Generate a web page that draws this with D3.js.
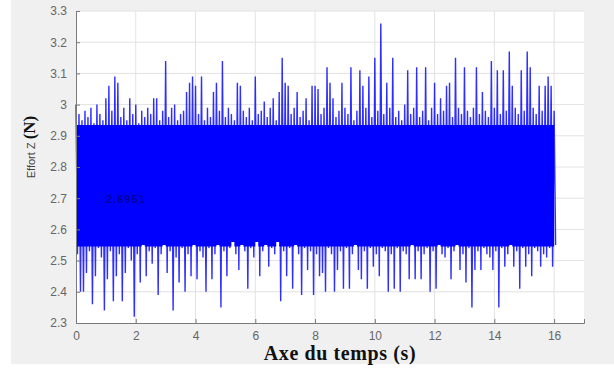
<!DOCTYPE html>
<html><head><meta charset="utf-8">
<script src="https://cdn.jsdelivr.net/npm/d3@7/dist/d3.min.js"></script>
<style>
html,body{margin:0;padding:0;background:#fff;}
svg{display:block;}
</style></head>
<body>
<svg id="c" width="614" height="370"></svg>
<script>
// ---- data ----
const timeStep = 0.1; // s, one envelope bin
const xTicks = [0, 2, 4, 6, 8, 10, 12, 14, 16];
const yTicks = [2.3, 2.4, 2.5, 2.6, 2.7, 2.8, 2.9, 3.0, 3.1, 3.2, 3.3];
// dense part of the signal (N): where the trace is a solid blue band
const denseBand = [2.545, 2.935];
// upper extreme of the signal in each 0.1 s bin (N)
const peakHigh = [
3.00,2.97,2.95,2.98,2.96,2.99,2.94,3.00,2.97,2.95,
3.02,3.06,2.98,3.09,3.07,2.96,2.99,2.95,3.02,2.97,
3.00,2.94,2.98,2.96,2.99,2.97,3.02,3.02,2.95,2.98,
3.14,2.96,2.99,3.00,2.95,2.97,2.98,3.04,3.07,3.09,
3.06,2.97,3.09,2.95,2.99,2.96,3.04,3.07,2.98,3.14,
2.96,2.99,2.97,2.95,3.07,3.06,2.98,2.96,2.99,2.95,
3.09,2.97,2.98,3.01,2.96,2.99,3.02,2.95,3.04,3.15,
3.07,3.06,2.97,2.99,3.04,2.96,2.98,3.02,2.95,3.06,
3.06,3.05,2.97,2.99,3.12,3.07,3.02,2.96,2.98,3.07,
2.99,2.97,3.12,2.95,2.98,3.11,3.06,2.99,3.09,2.96,
3.15,2.98,3.26,2.97,3.07,2.99,3.15,2.96,2.98,2.95,
3.00,3.11,2.97,2.99,3.12,2.96,2.98,3.12,2.95,2.99,
3.07,2.97,3.02,2.98,3.06,3.07,2.96,3.15,2.99,2.97,
3.12,2.98,2.96,2.99,3.12,2.97,3.04,2.98,2.96,3.14,
2.99,3.11,2.97,3.11,2.98,3.17,3.06,2.99,2.97,3.11,
2.98,3.17,3.12,2.99,2.97,3.06,2.98,3.06,3.09,3.06,
2.98];
// lower extreme of the signal in each 0.1 s bin (N)
const peakLow = [
2.52,2.40,2.40,2.46,2.53,2.36,2.45,2.54,2.51,2.34,
2.44,2.53,2.37,2.45,2.52,2.37,2.46,2.54,2.50,2.32,
2.52,2.43,2.55,2.45,2.53,2.49,2.54,2.39,2.52,2.55,
2.46,2.53,2.34,2.51,2.43,2.54,2.40,2.52,2.45,2.55,
2.44,2.53,2.51,2.40,2.54,2.44,2.52,2.55,2.35,2.53,
2.45,2.54,2.56,2.52,2.47,2.55,2.53,2.41,2.54,2.51,
2.56,2.45,2.53,2.55,2.48,2.54,2.52,2.56,2.37,2.53,
2.45,2.54,2.41,2.55,2.52,2.39,2.54,2.47,2.53,2.39,
2.52,2.45,2.46,2.40,2.54,2.52,2.40,2.47,2.53,2.41,
2.54,2.41,2.52,2.55,2.47,2.44,2.53,2.41,2.54,2.48,
2.52,2.45,2.54,2.53,2.40,2.52,2.41,2.54,2.40,2.53,
2.52,2.44,2.55,2.44,2.53,2.44,2.52,2.54,2.40,2.53,
2.41,2.55,2.52,2.51,2.54,2.44,2.53,2.55,2.47,2.52,
2.43,2.54,2.35,2.47,2.53,2.47,2.54,2.52,2.51,2.47,
2.53,2.35,2.54,2.48,2.52,2.55,2.48,2.53,2.41,2.54,
2.48,2.52,2.45,2.54,2.53,2.48,2.52,2.51,2.54,2.48,
2.55];

// ---- drawing ----
const svg = d3.select("#c");
const W = 614, H = 370;
const x = d3.scaleLinear().domain([0, 17]).range([76, 584]);
const y = d3.scaleLinear().domain([2.3, 3.3]).range([323, 11]);

// figure background
svg.append("rect").attr("x", 0).attr("y", 0).attr("width", W).attr("height", H).attr("fill", "#ffffff");
svg.append("rect").attr("x", 11).attr("y", 0).attr("width", W - 11).attr("height", 364).attr("fill", "#f0f0f0");
// axes background
svg.append("rect").attr("x", x(0)).attr("y", y(3.3)).attr("width", x(17) - x(0)).attr("height", y(2.3) - y(3.3)).attr("fill", "#ffffff");

// grid
const grid = svg.append("g");
grid.selectAll("line.gx").data(xTicks.filter(d => d > 0)).join("line")
  .attr("x1", d => x(d)).attr("x2", d => x(d)).attr("y1", y(2.3)).attr("y2", y(3.3))
  .attr("stroke", "#e2e2e2").attr("stroke-width", 1);
grid.selectAll("line.gy").data(yTicks.filter(d => d > 2.3)).join("line")
  .attr("y1", d => y(d)).attr("y2", d => y(d)).attr("x1", x(0)).attr("x2", x(17))
  .attr("stroke", "#e2e2e2").attr("stroke-width", 1);

// signal: envelope points
const pts = [];
peakHigh.forEach((v, i) => {
  pts.push([i * timeStep, v]);
  pts.push([i * timeStep + timeStep / 2, peakLow[i]]);
});
// dense band (solid part of the trace)
const bins = peakHigh.map((v, i) => ({ t: i * timeStep, hi: v, lo: peakLow[i] }));
svg.append("path")
  .datum(bins)
  .attr("fill", "#0000ff")
  .attr("d", d3.area().curve(d3.curveStepAfter)
    .x(d => x(d.t))
    .y0(d => y(Math.max(d.lo, denseBand[0])))
    .y1(d => y(Math.min(d.hi, denseBand[1]))));
// spikes
svg.append("path")
  .datum(pts)
  .attr("fill", "none")
  .attr("stroke", "#0000ff")
  .attr("stroke-opacity", 0.82)
  .attr("stroke-width", 1.4)
  .attr("stroke-linejoin", "miter")
  .attr("d", d3.line().x(d => x(d[0])).y(d => y(d[1])));

// data tip text
svg.append("text").attr("x", 106).attr("y", 203)
  .attr("font-family", "Liberation Sans, Arial, sans-serif").attr("font-size", 11)
  .attr("font-weight", "bold").attr("letter-spacing", 1)
  .attr("fill", "#000060").attr("opacity", 0.6).text("2.6951");

// axes
const axX = svg.append("g").attr("transform", `translate(0,${y(2.3)})`)
  .call(d3.axisBottom(x).tickValues(xTicks).tickSize(-4).tickPadding(8).tickFormat(d => String(d)));
const axY = svg.append("g").attr("transform", `translate(${x(0)},0)`)
  .call(d3.axisLeft(y).tickValues(yTicks).tickSize(-4).tickPadding(9).tickFormat(d => String(+d.toFixed(1))));
[axX, axY].forEach(g => {
  g.select(".domain").attr("stroke", "#7a7a7a");
  g.selectAll(".tick line").attr("stroke", "#7a7a7a");
  g.selectAll(".tick text").attr("fill", "#666").attr("font-size", 12)
    .attr("font-family", "Liberation Sans, Arial, sans-serif");
});

// axis titles
svg.append("text").attr("x", 340).attr("y", 360).attr("text-anchor", "middle")
  .attr("font-family", "Liberation Serif, Times New Roman, serif").attr("font-weight", "bold")
  .attr("font-size", 20).attr("letter-spacing", 0.6).attr("fill", "#111").text("Axe du temps (s)");
const yl = svg.append("text").attr("transform", "translate(35,147) rotate(-90)").attr("text-anchor", "middle");
yl.append("tspan").attr("font-family", "Liberation Sans, Arial, sans-serif").attr("font-size", 11)
  .attr("fill", "#444").text("Effort Z ");
yl.append("tspan").attr("font-family", "Liberation Serif, Times New Roman, serif").attr("font-weight", "bold")
  .attr("font-size", 17).attr("fill", "#111").text("(N)");
</script>
</body></html>
